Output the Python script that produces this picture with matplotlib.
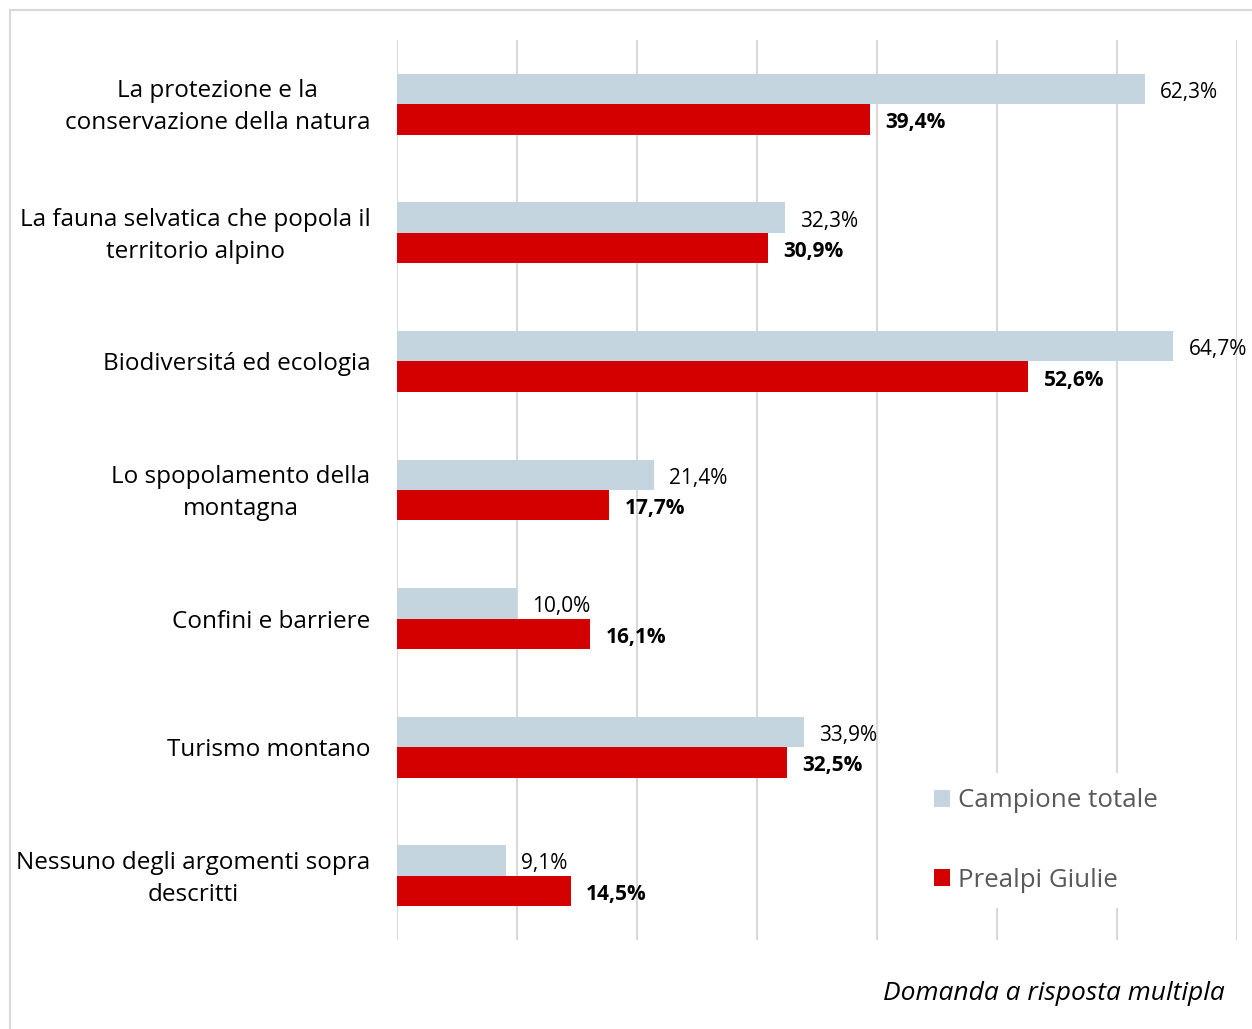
import numpy as np
import matplotlib
matplotlib.use('Agg')
import matplotlib.pyplot as plt
import matplotlib.transforms as mtransforms
from matplotlib.lines import Line2D

plt.rcParams['font.family'] = ['Open Sans', 'DejaVu Sans']

# dati
categorie = [
    'La protezione e la\nconservazione della natura',
    'La fauna selvatica che popola il\nterritorio alpino',
    'Biodiversitá ed ecologia',
    'Lo spopolamento della\nmontagna',
    'Confini e barriere',
    'Turismo montano',
    'Nessuno degli argomenti sopra\ndescritti',
]
campione_totale = [62.3, 32.3, 64.7, 21.4, 10.0, 33.9, 9.1]
prealpi_giulie = [39.4, 30.9, 52.6, 17.7, 16.1, 32.5, 14.5]

col_grigio = '#C5D5DF'
col_rosso = '#D40000'
col_griglia = '#D9D9D9'

fig = plt.figure(figsize=(12.52, 10.29), dpi=100)
ax = fig.add_axes([397/1252, 1 - 940/1029, (1237-397)/1252, 900/1029])

y = np.arange(len(categorie))
h = 0.237
ax.barh(y - h/2, campione_totale, height=h, color=col_grigio, label='Campione totale', zorder=3)
ax.barh(y + h/2, prealpi_giulie, height=h, color=col_rosso, label='Prealpi Giulie', zorder=3)

ax.set_xlim(0, 70)
ax.set_ylim(len(categorie) - 0.5, -0.5)
ax.set_xticks(np.arange(0, 71, 10))
ax.xaxis.grid(True, color=col_griglia, linewidth=1.5, zorder=0)
ax.tick_params(axis='x', length=0, labelbottom=False)
ax.tick_params(axis='y', length=0, pad=19)
ax.set_yticks(y)
ax.set_yticklabels(categorie, fontsize=17.5, multialignment='center', linespacing=1.45)
# le etichette su due righe stanno un po' più in alto
spost = mtransforms.ScaledTranslation(0, 4/100, fig.dpi_scale_trans)
for lab in ax.get_yticklabels():
    if '\n' in lab.get_text():
        lab.set_transform(lab.get_transform() + spost)
for s in ax.spines.values():
    s.set_visible(False)

# etichette valori
for i in range(len(categorie)):
    ax.annotate(f'{campione_totale[i]:.1f}%'.replace('.', ','), (campione_totale[i], y[i] - h/2),
                xytext=(11, -2.5), textcoords='offset points', va='center', fontsize=15)
    ax.annotate(f'{prealpi_giulie[i]:.1f}%'.replace('.', ','), (prealpi_giulie[i], y[i] + h/2),
                xytext=(11, -2.5), textcoords='offset points', va='center', fontsize=15,
                fontweight='bold')

leg = ax.legend(loc='upper left', bbox_to_anchor=(0.606, 0.2), frameon=True, fontsize=18.6,
                labelspacing=2.1, handlelength=0.6, handleheight=0.6, handletextpad=0.3,
                borderpad=0.6, labelcolor='#595959')
leg.get_frame().set_facecolor('white')
leg.get_frame().set_edgecolor('none')
leg.get_frame().set_alpha(1)
leg.set_zorder(5)

fig.text(1225/1252, 1 - 993/1029, 'Domanda a risposta multipla', ha='right', va='center',
         fontsize=19, style='italic')

# bordo del grafico
fig.add_artist(Line2D([10/1252, 1], [1 - 10/1029, 1 - 10/1029], color=col_griglia, linewidth=1.5))
fig.add_artist(Line2D([10/1252, 10/1252], [0, 1 - 10/1029], color=col_griglia, linewidth=1.5))

fig.savefig('out.png', dpi=100)
